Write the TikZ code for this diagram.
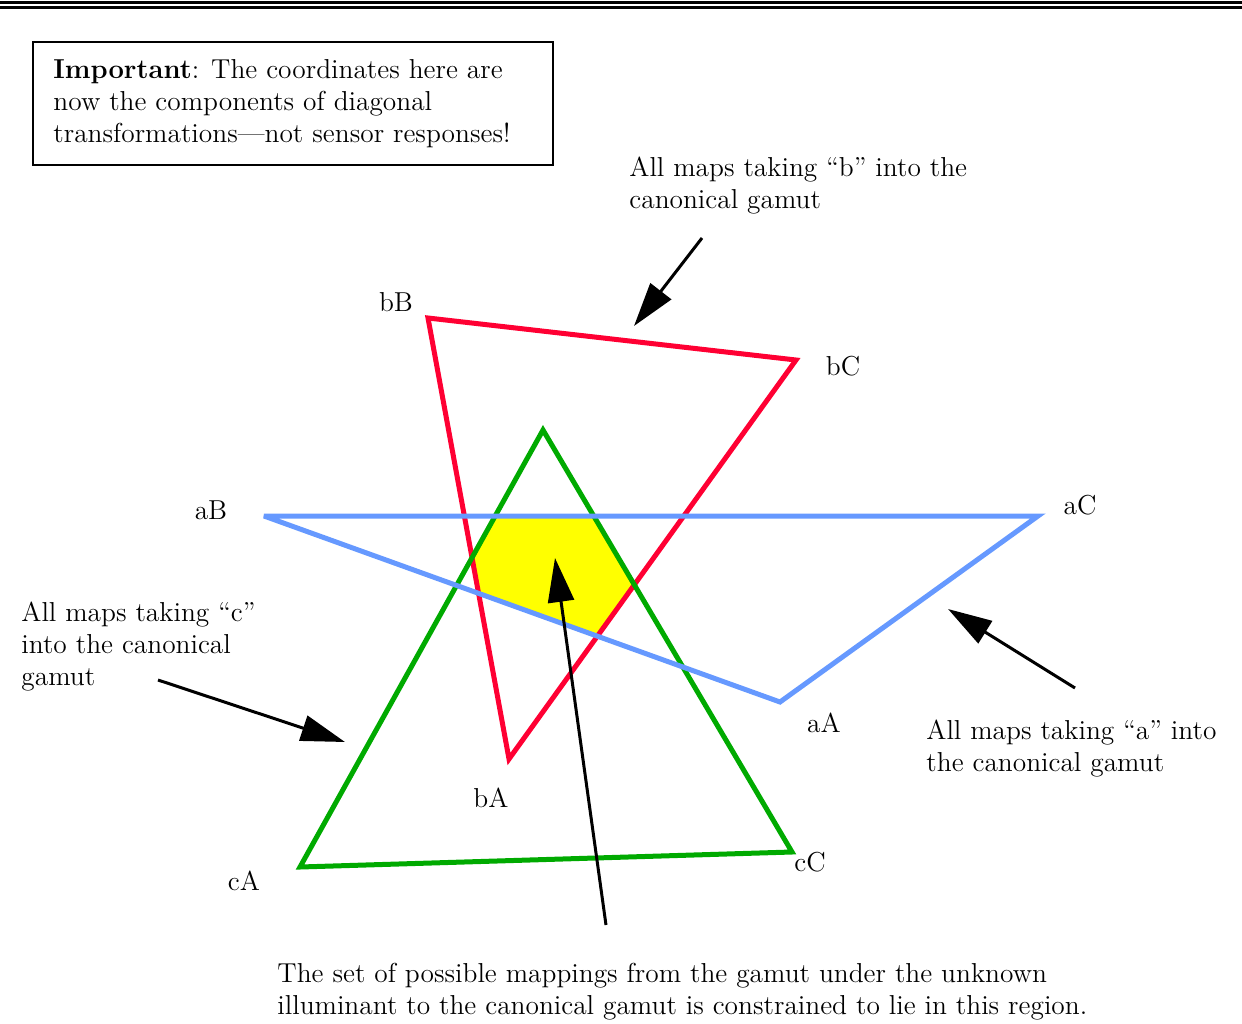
\documentclass[tikz,border=0pt]{standalone}
\usepackage{xcolor}
\usepackage{tikz}
\usetikzlibrary{arrows.meta, positioning}
\definecolor{mapred}{RGB}{255,0,51}
\definecolor{mapgreen}{RGB}{0,170,0}
\definecolor{mapblue}{RGB}{102,153,255}
\definecolor{mapyellow}{RGB}{255,255,0}

\tikzset{
    gamutline/.style={line width=2.5pt, miter limit=4},
    pointer/.style={line width=1.5pt, -{Triangle[length=22pt,width=13pt]}},
    vertexlabel/.style={font=\fontsize{13.7}{16}\selectfont, inner sep=0pt},
    note/.style={font=\fontsize{13.7}{16}\selectfont, align=left, anchor=north west, inner sep=0pt}
}

\begin{document}
\begin{tikzpicture}[x=0.5pt, y=-0.5pt]

        % page frame
        \useasboundingbox (0,0) rectangle (1242,1023);
        \fill (0,1) rectangle (1242,4);
        \fill (0,6) rectangle (1242,9);

        % note box
        \draw[line width=1pt] (33,42) rectangle (553,165);
        \node[note] (important) at (53,59)
        {
            \textbf{Important}: The coordinates here are\\
            now the components of diagonal\\
            transformations---not sensor responses!
        };

        % vertices of the three gamuts of maps
        \coordinate (aB) at (264,516);
        \coordinate (aC) at (1038,516);
        \coordinate (aA) at (780,702);
        \coordinate (bB) at (428,318);
        \coordinate (bC) at (796,360);
        \coordinate (bA) at (509,759);
        \coordinate (cT) at (543,430);
        \coordinate (cA) at (300,867);
        \coordinate (cC) at (792,852);

        % feasible region
        \begin{scope}
            \clip (bB) -- (bC) -- (bA) -- cycle;
            \clip (cT) -- (cC) -- (cA) -- cycle;
            \fill[mapyellow] (aB) -- (aC) -- (aA) -- cycle;
        \end{scope}

        \draw[gamutline, mapred] (bB) -- (bC) -- (bA) -- cycle;
        \draw[gamutline, mapgreen] (cT) -- (cC) -- (cA) -- cycle;
        \draw[gamutline, mapblue] (aB) -- (aC) -- (aA) -- cycle;

        \node[vertexlabel] (aBlabel) at (211,510) {aB};
        \node[vertexlabel] (aClabel) at (1080,505) {aC};
        \node[vertexlabel] (aAlabel) at (824,723) {aA};
        \node[vertexlabel] (bBlabel) at (396,302) {bB};
        \node[vertexlabel] (bClabel) at (843,366) {bC};
        \node[vertexlabel] (bAlabel) at (491,798) {bA};
        \node[vertexlabel] (cAlabel) at (244,881) {cA};
        \node[vertexlabel] (cClabel) at (810,862) {cC};

        % notes and pointers
        \node[note] (bnote) at (629,157)
        {
            All maps taking “b” into the\\
            canonical gamut
        };
        \node[note] (cnote) at (21,602)
        {
            All maps taking “c”\\
            into the canonical\\
            gamut
        };
        \node[note] (anote) at (926,720)
        {
            All maps taking “a” into\\
            the canonical gamut
        };
        \node[note] (setnote) at (277,963)
        {
            The set of possible mappings from the gamut under the unknown\\
            illuminant to the canonical gamut is constrained to lie in this region.
        };

        \coordinate (bfrom) at (702,238);
        \coordinate (bto) at (634,326);
        \coordinate (cfrom) at (158,680);
        \coordinate (cto) at (345,742);
        \coordinate (afrom) at (1075,688);
        \coordinate (ato) at (948,609);
        \coordinate (setfrom) at (606,925);
        \coordinate (setto) at (555,558);

        \draw[pointer] (bfrom) -- (bto);
        \draw[pointer] (cfrom) -- (cto);
        \draw[pointer] (afrom) -- (ato);
        \draw[pointer] (setfrom) -- (setto);

    \end{tikzpicture}
\end{document}
